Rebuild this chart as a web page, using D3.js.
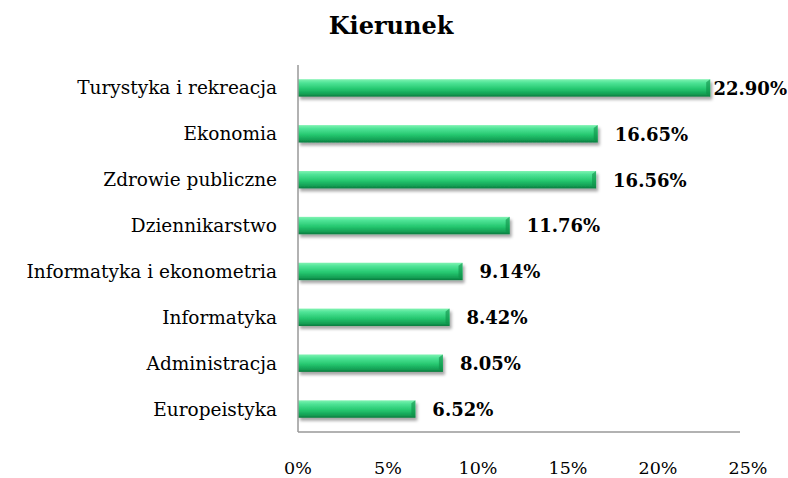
<!DOCTYPE html>
<html>
<head>
<meta charset="utf-8">
<script src="https://cdn.jsdelivr.net/npm/d3@7"></script>
<style>
  body { margin: 0; background: #fff; }
  text { font-family: "DejaVu Serif", serif; fill: #000; }
</style>
</head>
<body>
<script>
// data
const title = "Kierunek";
const categories = [
  "Turystyka i rekreacja",
  "Ekonomia",
  "Zdrowie publiczne",
  "Dziennikarstwo",
  "Informatyka i ekonometria",
  "Informatyka",
  "Administracja",
  "Europeistyka"
];
const values = [22.90, 16.65, 16.56, 11.76, 9.14, 8.42, 8.05, 6.52];
const xTicks = [0, 5, 10, 15, 20, 25];

const width = 788, height = 478;
const margin = { top: 65, right: 40, bottom: 46, left: 298 };

const svg = d3.select("body").append("svg")
  .attr("width", width)
  .attr("height", height);

// gradient + shadow for the bars
const defs = svg.append("defs");
const grad = defs.append("linearGradient")
  .attr("id", "barGrad")
  .attr("x1", "0%").attr("y1", "0%")
  .attr("x2", "0%").attr("y2", "100%");
grad.append("stop").attr("offset", "0%").attr("stop-color", "#80f3b2");
grad.append("stop").attr("offset", "20%").attr("stop-color", "#4fe497");
grad.append("stop").attr("offset", "55%").attr("stop-color", "#26c870");
grad.append("stop").attr("offset", "85%").attr("stop-color", "#139f54");
grad.append("stop").attr("offset", "100%").attr("stop-color", "#0c7a3e");

const shadow = defs.append("filter")
  .attr("id", "shadow")
  .attr("x", "-5%").attr("y", "-30%")
  .attr("width", "115%").attr("height", "190%");
shadow.append("feDropShadow")
  .attr("dx", 2).attr("dy", 3)
  .attr("stdDeviation", 1.8)
  .attr("flood-color", "#000")
  .attr("flood-opacity", 0.35);

const x = d3.scaleLinear()
  .domain([0, 25])
  .range([margin.left, 748]);

const y = d3.scaleBand()
  .domain(categories)
  .range([margin.top, height - margin.bottom])
  .paddingInner(0.62)
  .paddingOuter(0.31);

// title
svg.append("text")
  .attr("x", 391)
  .attr("y", 34)
  .attr("text-anchor", "middle")
  .style("font-size", "24px")
  .style("font-weight", "bold")
  .text(title);

// bars
const bars = svg.append("g");
bars.selectAll("rect.bar")
  .data(values)
  .join("rect")
  .attr("class", "bar")
  .attr("x", x(0))
  .attr("y", (d, i) => y(categories[i]))
  .attr("width", d => x(d) - x(0))
  .attr("height", y.bandwidth())
  .attr("fill", "url(#barGrad)")
  .attr("filter", "url(#shadow)");

// little bevel at the end of each bar
bars.selectAll("path.cap")
  .data(values)
  .join("path")
  .attr("class", "cap")
  .attr("d", (d, i) => {
    const x1 = x(d), y0 = y(categories[i]), h = y.bandwidth();
    return `M${x1 - 4},${y0 + 3} L${x1},${y0} L${x1},${y0 + h} L${x1 - 4},${y0 + h - 3} Z`;
  })
  .attr("fill", "#0f8f48")
  .attr("opacity", 0.6);

// axes lines
svg.append("line")
  .attr("x1", x(0)).attr("x2", x(0))
  .attr("y1", margin.top).attr("y2", height - margin.bottom)
  .attr("stroke", "#999").attr("stroke-width", 1.5);
svg.append("line")
  .attr("x1", x(0)).attr("x2", 740)
  .attr("y1", height - margin.bottom).attr("y2", height - margin.bottom)
  .attr("stroke", "#999").attr("stroke-width", 1.5);

// category labels
svg.append("g").selectAll("text")
  .data(categories)
  .join("text")
  .attr("x", 277)
  .attr("y", d => y(d) + y.bandwidth() / 2)
  .attr("dy", "0.35em")
  .attr("text-anchor", "end")
  .style("font-size", "18.5px")
  .text(d => d);

// x tick labels
svg.append("g").selectAll("text")
  .data(xTicks)
  .join("text")
  .attr("x", d => x(d))
  .attr("y", 474)
  .attr("text-anchor", "middle")
  .style("font-size", "17.5px")
  .text(d => d + "%");

// value labels
const valueLabels = svg.append("g").selectAll("text")
  .data(values)
  .join("text")
  .attr("y", (d, i) => y(categories[i]) + y.bandwidth() / 2)
  .attr("dy", "0.38em")
  .style("font-size", "18px")
  .style("font-weight", "bold")
  .text(d => d.toFixed(2) + "%");

valueLabels.attr("x", function (d) {
  const w = this.getComputedTextLength();
  return Math.min(x(d) + 17, width - 1 - w);
});
</script>
</body>
</html>
